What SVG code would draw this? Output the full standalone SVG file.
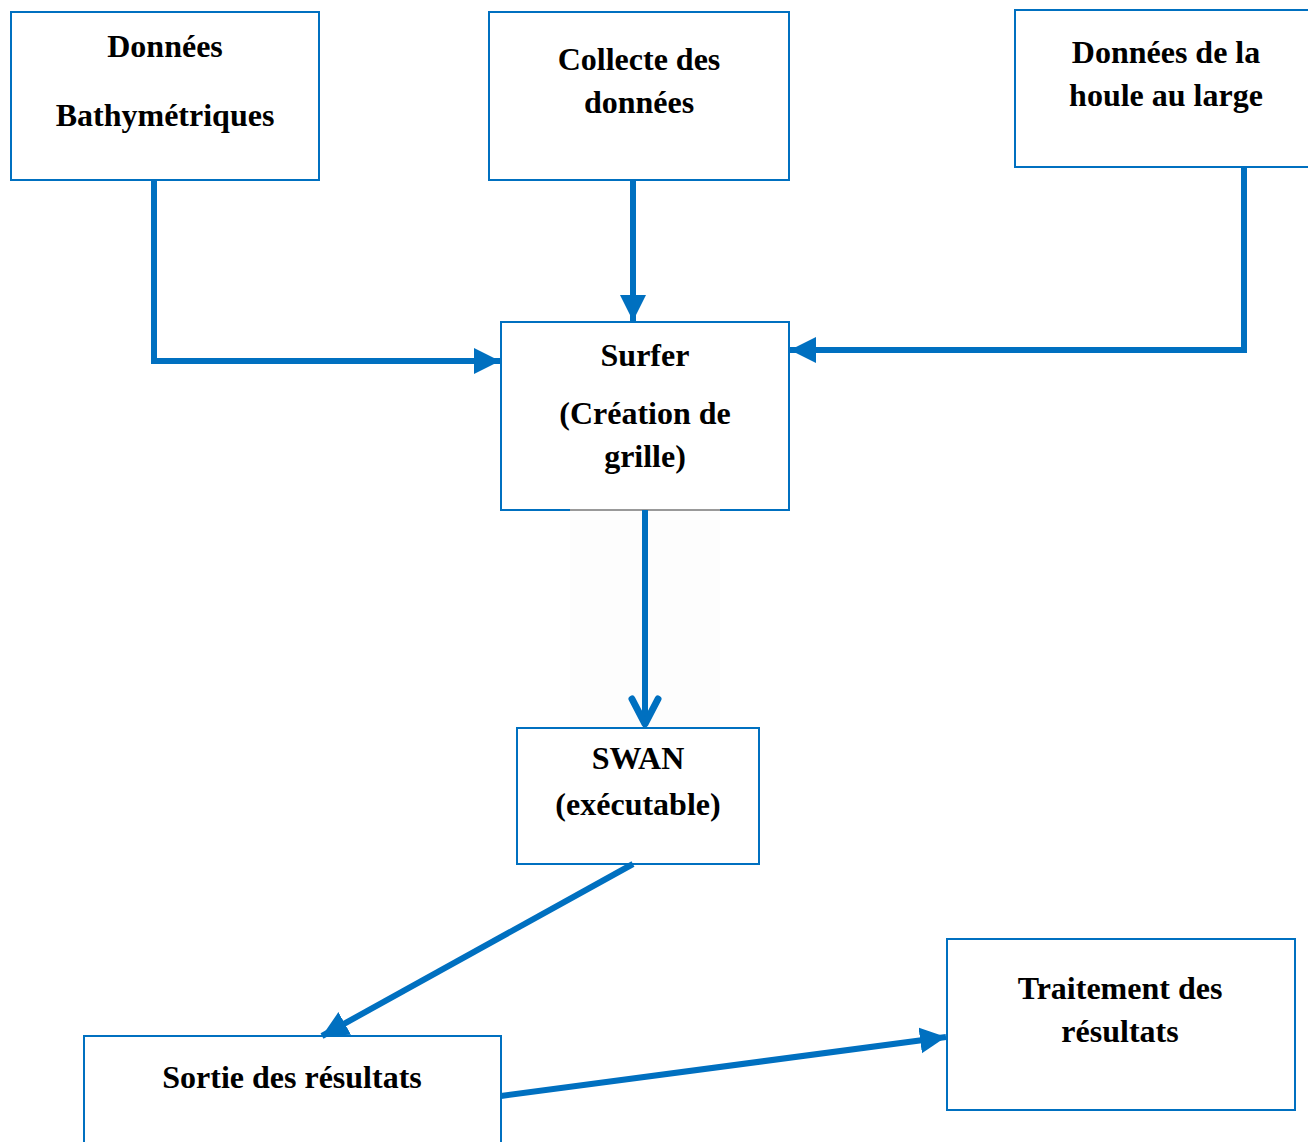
<svg xmlns="http://www.w3.org/2000/svg" width="1308" height="1142" viewBox="0 0 1308 1142">
<style>
.box{fill:#fff;stroke:#0070C0;stroke-width:2}
.t{font-family:'Liberation Serif','Times New Roman',Times,serif;font-weight:700;font-size:32px;fill:#000;text-anchor:middle}
.c{fill:none;stroke:#0070C0;stroke-width:6}
</style>
<defs>
<marker id="ah" markerUnits="userSpaceOnUse" markerWidth="28" markerHeight="28" refX="26" refY="14" orient="auto">
<path d="M0,1 L26,14 L0,27 Z" fill="#0070C0"/>
</marker>
</defs>
<rect width="1308" height="1142" fill="#fff"/>
<rect x="570" y="450" width="150" height="285" fill="#fdfdfd"/>
<g id="n1"><rect class="box" x="11" y="12" width="308" height="168"/>
<text class="t" x="165" y="57">Données</text><text class="t" x="165" y="126">Bathymétriques</text></g>
<g id="n2"><rect class="box" x="489" y="12" width="300" height="168"/>
<text class="t" x="639" y="70">Collecte des</text><text class="t" x="639" y="113">données</text></g>
<g id="n3"><rect class="box" x="1015" y="10" width="310" height="157"/>
<text class="t" x="1166" y="63">Données de la</text><text class="t" x="1166" y="106">houle au large</text></g>
<g id="n4"><rect class="box" x="501" y="322" width="288" height="188"/>
<text class="t" x="645" y="366">Surfer</text><text class="t" x="645" y="424">(Création de</text><text class="t" x="645" y="467">grille)</text>
<line x1="570" y1="510" x2="720" y2="510" stroke="#999" stroke-width="2"/></g>
<g id="n5"><rect class="box" x="517" y="728" width="242" height="136"/>
<text class="t" x="638" y="769">SWAN</text><text class="t" x="638" y="815">(exécutable)</text></g>
<g id="n6"><rect class="box" x="84" y="1036" width="417" height="120"/>
<text class="t" x="292" y="1088">Sortie des résultats</text></g>
<g id="n7"><rect class="box" x="947" y="939" width="348" height="171"/>
<text class="t" x="1120" y="999">Traitement des</text><text class="t" x="1120" y="1042">résultats</text></g>
<g id="connectors">
<polyline class="c" points="154,180 154,361 500,361" marker-end="url(#ah)"/>
<line class="c" x1="633" y1="180" x2="633" y2="321" marker-end="url(#ah)"/>
<polyline class="c" points="1244,167 1244,350 790,350" marker-end="url(#ah)"/>
<line class="c" x1="645" y1="510" x2="645" y2="724"/>
<polyline points="632,699 645,724 658,699" fill="none" stroke="#0070C0" stroke-width="7" stroke-linecap="round" stroke-linejoin="round"/>
<line class="c" x1="633" y1="864" x2="322" y2="1036" marker-end="url(#ah)"/>
<line class="c" x1="501" y1="1096" x2="946" y2="1037" marker-end="url(#ah)"/>
</g>
</svg>
